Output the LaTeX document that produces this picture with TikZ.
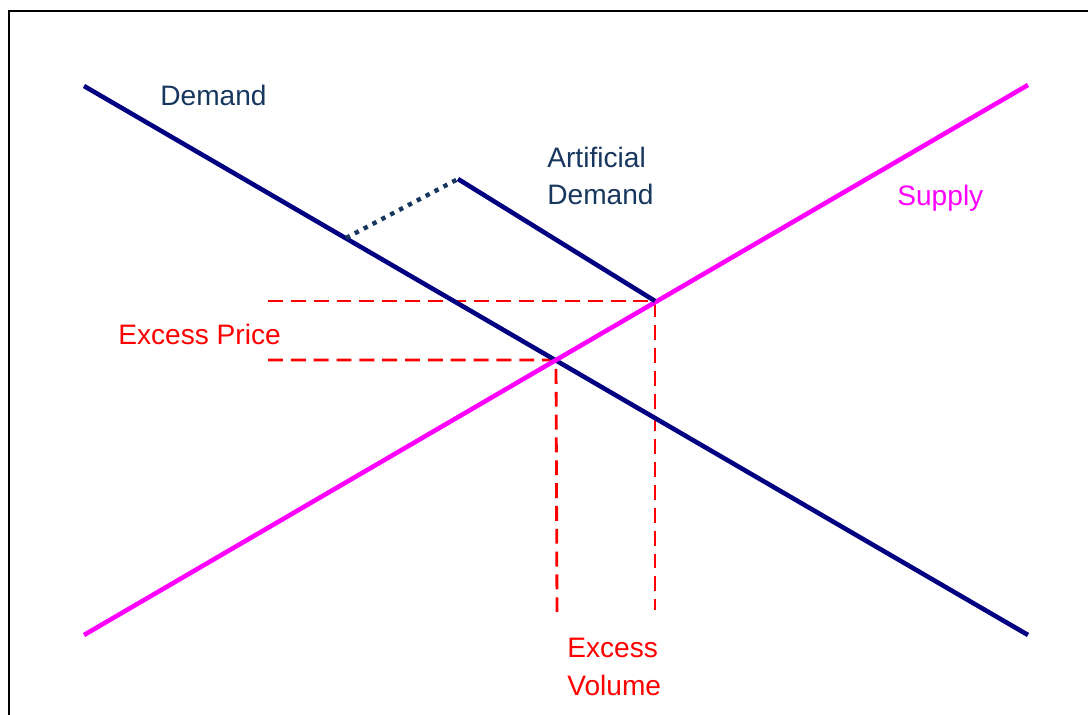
\documentclass[tikz,border=0pt]{standalone}
\usepackage{fontspec}
\setmainfont{Liberation Sans}
\usetikzlibrary{positioning}
\definecolor{Navy}{HTML}{000080}
\definecolor{DarkNavy}{HTML}{17375E}
\definecolor{Magenta}{HTML}{FF00FF}
\definecolor{Red}{HTML}{FF0000}
\tikzset{
  curve/.style={line width=2.6pt},
  demandline/.style={curve,draw=Navy},
  supplyline/.style={curve,draw=Magenta},
  shiftline/.style={draw=DarkNavy,line width=2.5pt,dash pattern=on 2.5pt off 3.2pt},
  guide/.style={draw=Red,line width=1.6pt,dash pattern=on 8.5pt off 4.5pt},
  lbl/.style={anchor=base west,inner sep=0pt,align=left,font=\fontsize{16}{21.6}\selectfont},
}

\begin{document}
\begin{tikzpicture}[x=0.02cm,y=-0.02cm]
    \useasboundingbox (0,0) rectangle (1088,715);
    \draw[line width=1.2pt] (9,715) -- (9,11) -- (1088,11);

    % curve end points
    \coordinate (dTop) at (84,86);
    \coordinate (dBot) at (1028,635);
    \coordinate (sBot) at (84,635);
    \coordinate (sTop) at (1028,85);
    \coordinate (eq) at (556,360);
    \coordinate (adTop) at (458,179);
    \coordinate (adEnd) at (655,301);
    \coordinate (dKnee) at (346,238);
    \coordinate (pHigh) at (268,301);
    \coordinate (pLow) at (268,360);
    \coordinate (vLow) at (557,612);
    \coordinate (vHigh) at (655,610);

    \draw[guide] (pHigh) -- (adEnd) -- (vHigh);
    \draw[guide] (pLow) -- (eq) -- (vLow);

    \draw[demandline] (dTop) -- (dBot);
    \draw[supplyline] (sBot) -- (sTop);
    \draw[demandline] (adTop) -- (adEnd);
    \draw[shiftline] (dKnee) -- (adTop);

    \node[lbl,text=DarkNavy] (demand) at (160,106) {Demand};
    \node[lbl,text=DarkNavy] (artificial) at (547,205) {Artificial\\Demand};
    \node[lbl,text=Magenta] (supply) at (897,206) {Supply};
    \node[lbl,text=Red] (price) at (118,345) {Excess Price};
    \node[lbl,text=Red] (volume) at (567,695) {Excess\\Volume};
\end{tikzpicture}
\end{document}
